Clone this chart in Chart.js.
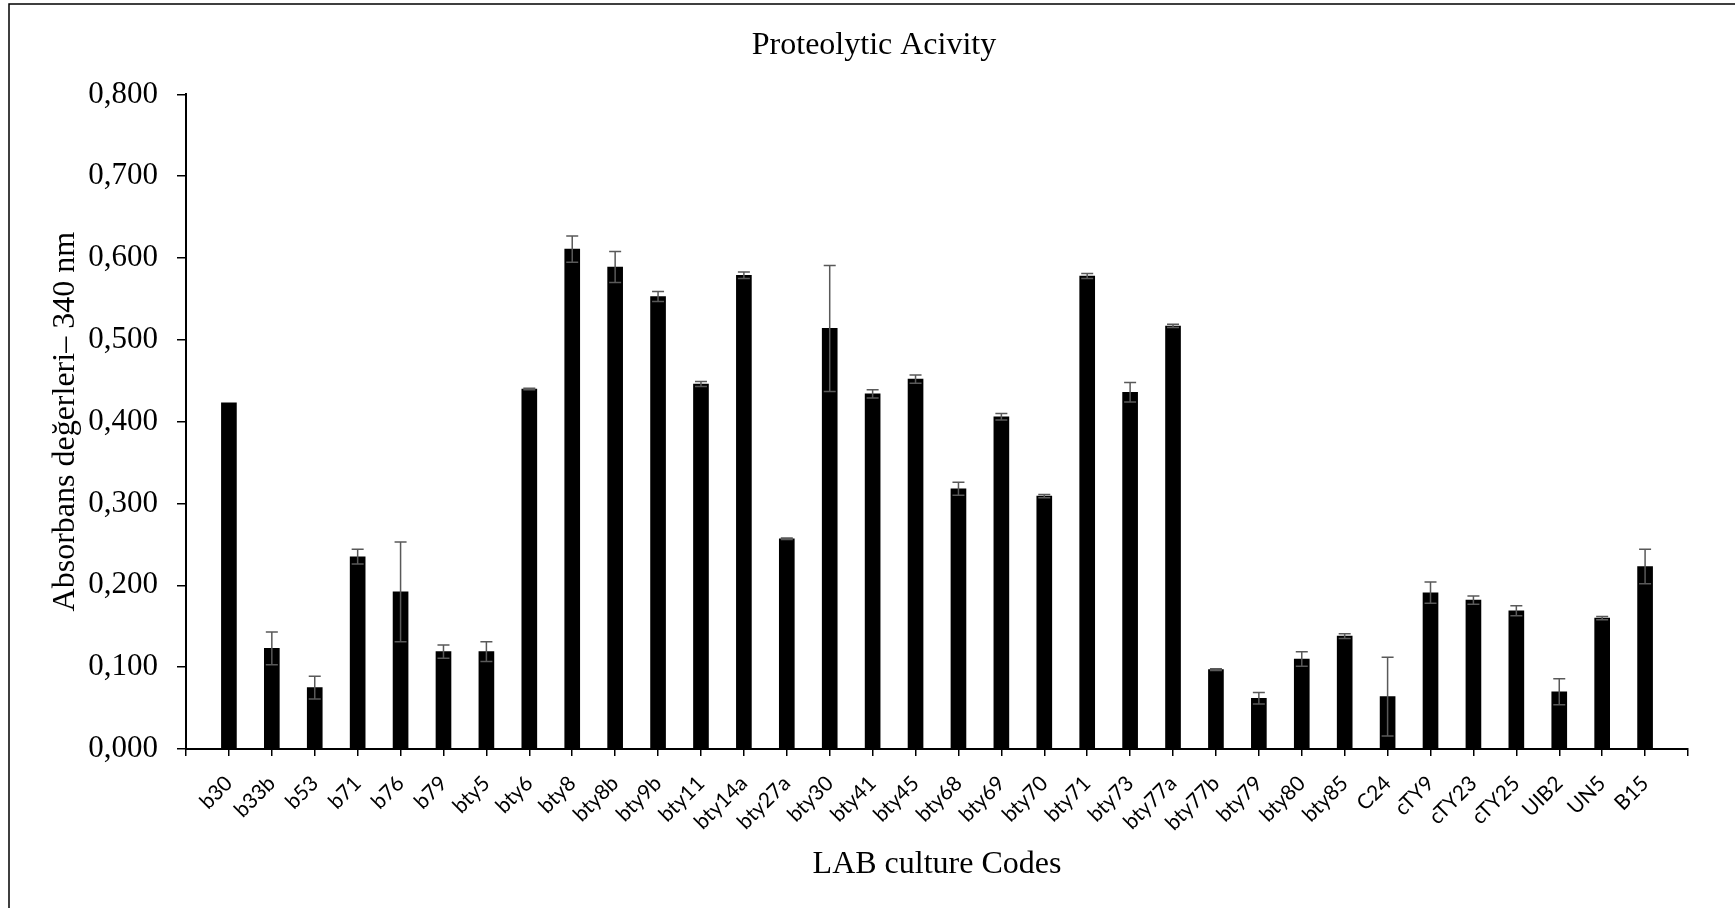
<!DOCTYPE html>
<html>
<head>
<meta charset="utf-8">
<script src="https://cdn.jsdelivr.net/npm/chart.js"></script>
<style>
  body { margin: 0; background: #fff; }
  #wrap { width: 1735px; height: 908px; }
</style>
</head>
<body>
<div id="wrap"><canvas id="Proteo" width="1735" height="908"></canvas></div>
<script>
var categories = ["b30", "b33b", "b53", "b71", "b76", "b79", "bty5", "bty6", "bty8", "bty8b", "bty9b", "bty11", "bty14a", "bty27a", "bty30", "bty41", "bty45", "bty68", "bty69", "bty70", "bty71", "bty73", "bty77a", "bty77b", "bty79", "bty80", "bty85", "C24", "cTY9", "cTY23", "cTY25", "UIB2", "UN5", "B15"];
var yValues = [0.423, 0.123, 0.075, 0.235, 0.192, 0.119, 0.119, 0.440, 0.611, 0.589, 0.553, 0.446, 0.579, 0.257, 0.514, 0.434, 0.452, 0.318, 0.406, 0.309, 0.578, 0.436, 0.517, 0.097, 0.062, 0.110, 0.138, 0.064, 0.191, 0.182, 0.169, 0.070, 0.160, 0.223];
var yErrors = [0.000, 0.020, 0.014, 0.009, 0.061, 0.008, 0.012, 0.001, 0.016, 0.019, 0.006, 0.003, 0.004, 0.001, 0.077, 0.005, 0.005, 0.008, 0.004, 0.002, 0.003, 0.012, 0.002, 0.001, 0.007, 0.009, 0.003, 0.048, 0.013, 0.005, 0.006, 0.016, 0.002, 0.021];
var yTicks = [0, 0.1, 0.2, 0.3, 0.4, 0.5, 0.6, 0.7, 0.8];

// excel leaves one empty slot at each end of the axis
var labels = [""].concat(categories, [""]);
var data = [null].concat(yValues, [null]);
var errs = [null].concat(yErrors, [null]);

var serif = "'Liberation Serif', 'Times New Roman', serif";

var frame = {
  id: "frame",
  beforeDraw: function(chart) {
    var ctx = chart.ctx;
    ctx.save();
    ctx.fillStyle = "#fff";
    ctx.fillRect(0, 0, chart.width, chart.height);
    ctx.strokeStyle = "#000";
    ctx.lineWidth = 1.5;
    ctx.strokeRect(9, 4, 3000, 3000);
    ctx.restore();
  },
  afterLayout: function(chart) {
    // title in the original sits a bit left of the plot centre
    if (chart.titleBlock) {
      chart.titleBlock.left = 0;
      chart.titleBlock.right = 1748;
    }
  }
};

var errorBars = {
  id: "errorBars",
  afterDatasetsDraw: function(chart) {
    var ctx = chart.ctx;
    var xs = chart.scales.x, ys = chart.scales.y;
    ctx.save();
    ctx.strokeStyle = "#595959";
    ctx.lineWidth = 1.5;
    for (var i = 0; i < data.length; i++) {
      if (data[i] == null || !errs[i]) continue;
      var x = xs.getPixelForValue(i);
      var top = ys.getPixelForValue(data[i] + errs[i]);
      var bot = ys.getPixelForValue(data[i] - errs[i]);
      ctx.beginPath();
      ctx.moveTo(x, top); ctx.lineTo(x, bot);
      ctx.moveTo(x - 6, top); ctx.lineTo(x + 6, top);
      ctx.moveTo(x - 6, bot); ctx.lineTo(x + 6, bot);
      ctx.stroke();
    }
    ctx.restore();
  }
};

var Proteo = new Chart(document.getElementById("Proteo"), {
  type: "bar",
  data: {
    labels: labels,
    datasets: [{
      data: data,
      backgroundColor: "#000",
      barThickness: 15
    }]
  },
  plugins: [frame, errorBars],
  options: {
    responsive: false,
    animation: false,
    layout: { padding: { left: 0, right: 47, top: 0, bottom: 0 } },
    plugins: {
      legend: { display: false },
      tooltip: { enabled: false },
      title: {
        display: true,
        text: "Proteolytic Acivity",
        color: "#000",
        font: { family: serif, size: 32, weight: "normal", lineHeight: 1.2 },
        padding: { top: 26, bottom: 30 }
      }
    },
    scales: {
      x: {
        offset: false,
        afterFit: function(s) { s.height = 159; },
        grid: { offset: false, drawOnChartArea: false, color: "#000", lineWidth: 1.5, tickLength: 7 },
        border: { color: "#000", width: 2 },
        ticks: {
          autoSkip: false,
          minRotation: 45,
          maxRotation: 45,
          color: "#000",
          padding: 15,
          font: { family: "Lato, 'Open Sans', sans-serif", size: 21 }
        },
        title: {
          display: true,
          text: "LAB culture Codes",
          color: "#000",
          font: { family: serif, size: 32, lineHeight: 1.2 },
          padding: { top: 0, bottom: 24 }
        }
      },
      y: {
        min: 0,
        max: 0.8,
        afterFit: function(s) { s.width = 186; },
        afterBuildTicks: function(s) { s.ticks = yTicks.map(function(v) { return { value: v }; }); },
        grid: { drawOnChartArea: false, color: "#000", lineWidth: 1.5, tickLength: 9 },
        border: { color: "#000", width: 2 },
        ticks: {
          color: "#000",
          padding: 19,
          font: { family: serif, size: 31 },
          callback: function(v) { return v.toFixed(3).replace(".", ","); }
        },
        title: {
          display: true,
          text: "Absorbans değerleri– 340 nm",
          color: "#000",
          font: { family: serif, size: 32, lineHeight: 1.2 },
          padding: { top: 46, bottom: 0 }
        }
      }
    }
  }
});
</script>
</body>
</html>
